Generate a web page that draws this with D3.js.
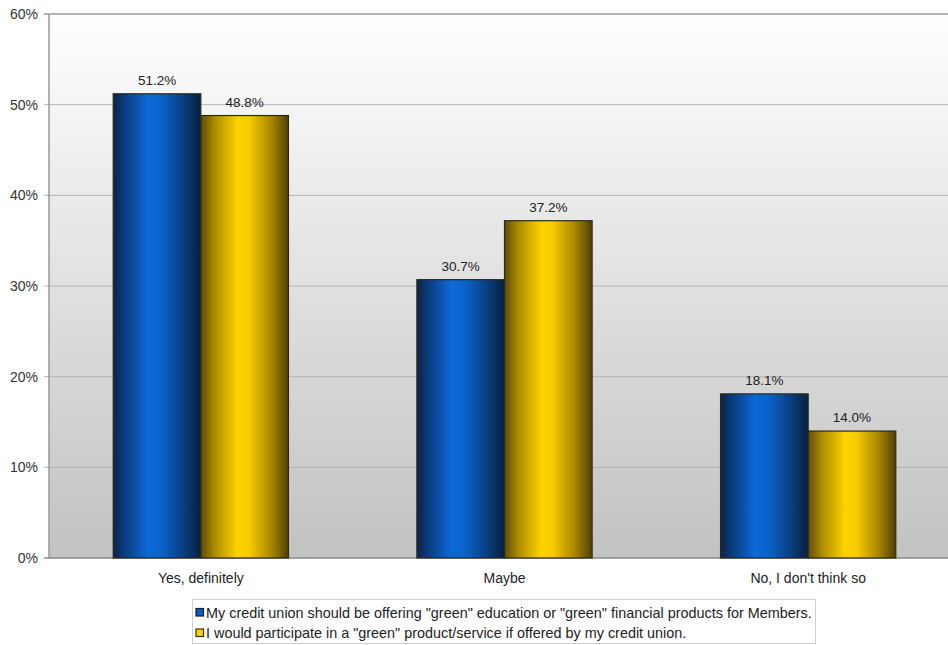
<!DOCTYPE html>
<html>
<head>
<meta charset="utf-8">
<script src="https://cdn.jsdelivr.net/npm/d3@7"></script>
<style>
  html, body { margin: 0; padding: 0; background: #fff; }
  svg { display: block; font-family: "Liberation Sans", Arial, sans-serif; }
</style>
</head>
<body>
<svg id="chart" width="948" height="645"></svg>
<script>
// Survey answers and the two statements asked
const categories = ["Yes, definitely", "Maybe", "No, I don't think so"];
const seriesNames = [
  "My credit union should be offering \"green\" education or \"green\" financial products for Members.",
  "I would participate in a \"green\" product/service if offered by my credit union."
];
const offeringValues = [51.2, 30.7, 18.1];
const participateValues = [48.8, 37.2, 14.0];
const yTicks = [0, 10, 20, 30, 40, 50, 60];

const svg = d3.select("#chart");
const margin = { left: 49, top: 14, right: -12, bottom: 87 };
const W = 948, H = 645;
const x0 = margin.left, x1 = W - margin.right;
const yTop = margin.top, yBot = H - margin.bottom;

const x = d3.scaleBand().domain(categories).range([x0, x1]).paddingInner(0).paddingOuter(0);
const xs = d3.scaleBand().domain([0, 1]).range([0, x.bandwidth()]).paddingOuter(0.733).paddingInner(0);
const y = d3.scaleLinear().domain([0, 60]).range([yBot, yTop]);

const defs = svg.append("defs");
const bg = defs.append("linearGradient").attr("id", "bgGrad").attr("x1", 0).attr("y1", 0).attr("x2", 0).attr("y2", 1);
bg.append("stop").attr("offset", "0%").attr("stop-color", "#ffffff");
bg.append("stop").attr("offset", "100%").attr("stop-color", "#c2c2c2");

function barGrad(id, stops) {
  const g = defs.append("linearGradient").attr("id", id).attr("x1", 0).attr("y1", 0).attr("x2", 1).attr("y2", 0);
  stops.forEach(([o, c]) => g.append("stop").attr("offset", o).attr("stop-color", c));
}
barGrad("blueGrad", [["0%", "#0a2446"], ["15%", "#0a3f86"], ["40%", "#0b6ad8"], ["55%", "#0a63c9"], ["80%", "#0a3f80"], ["100%", "#0a1f3c"]]);
barGrad("goldGrad", [["0%", "#5e4b08"], ["15%", "#a98a00"], ["42%", "#ffd200"], ["55%", "#f8cb00"], ["80%", "#a88800"], ["100%", "#4f3f06"]]);

// Plot background
svg.append("rect").attr("x", x0).attr("y", yTop).attr("width", x1 - x0).attr("height", yBot - yTop)
  .attr("fill", "url(#bgGrad)");

// Gridlines
svg.append("g").selectAll("line").data(yTicks.filter(t => t > 0)).join("line")
  .attr("x1", x0 - 5).attr("x2", x1).attr("y1", d => y(d)).attr("y2", d => y(d))
  .attr("stroke", d => d === 60 ? "#9a9a9a" : "#b4b4b4").attr("stroke-width", d => d === 60 ? 1.5 : 1);

// Axes lines
svg.append("line").attr("x1", x0).attr("x2", x0).attr("y1", yTop).attr("y2", yBot)
  .attr("stroke", "#999").attr("stroke-width", 1.5);
svg.append("line").attr("x1", x0 - 5).attr("x2", x1).attr("y1", yBot).attr("y2", yBot)
  .attr("stroke", "#8a8a8a").attr("stroke-width", 1.5);

// Y tick labels
svg.append("g").selectAll("text").data(yTicks).join("text")
  .attr("x", x0 - 11).attr("y", d => y(d) + 5)
  .attr("text-anchor", "end").attr("font-size", 14).attr("fill", "#333")
  .text(d => d + "%");

// Bars
const rows = categories.map((c, i) => ({ cat: c, vals: [offeringValues[i], participateValues[i]] }));
const grads = ["url(#blueGrad)", "url(#goldGrad)"];
const groups = svg.append("g").selectAll("g").data(rows).join("g")
  .attr("transform", d => `translate(${x(d.cat)},0)`);
groups.selectAll("rect").data(d => d.vals.map((v, s) => ({ v, s }))).join("rect")
  .attr("x", d => xs(d.s)).attr("width", xs.bandwidth())
  .attr("y", d => y(d.v)).attr("height", d => y(0) - y(d.v))
  .attr("fill", d => grads[d.s]).attr("stroke", "#2a2a1a").attr("stroke-width", 1.2);
groups.selectAll("text").data(d => d.vals.map((v, s) => ({ v, s }))).join("text")
  .attr("x", d => xs(d.s) + xs.bandwidth() / 2).attr("y", d => y(d.v) - 9)
  .attr("text-anchor", "middle").attr("font-size", 13.5).attr("fill", "#222")
  .text(d => d.v.toFixed(1) + "%");

// Category labels
svg.append("g").selectAll("text").data(categories).join("text")
  .attr("x", d => x(d) + x.bandwidth() / 2).attr("y", yBot + 25)
  .attr("text-anchor", "middle").attr("font-size", 14).attr("fill", "#222")
  .text(d => d);

// Legend
const lg = svg.append("g");
lg.append("rect").attr("x", 192.5).attr("y", 599.5).attr("width", 623).attr("height", 44)
  .attr("fill", "#fff").attr("stroke", "#d0d0d0");
const legendColors = [["#0b5cc0", "#0a1f3c"], ["#ffd000", "#3a3006"]];
seriesNames.forEach((name, i) => {
  const yy = 612.5 + i * 20.5;
  lg.append("rect").attr("x", 196).attr("y", yy - 4).attr("width", 7.5).attr("height", 7.5)
    .attr("fill", legendColors[i][0]).attr("stroke", legendColors[i][1]).attr("stroke-width", 1.2);
  lg.append("text").attr("x", 206).attr("y", yy + 5).attr("font-size", 14.4).attr("fill", "#222").text(name);
});
</script>
</body>
</html>
